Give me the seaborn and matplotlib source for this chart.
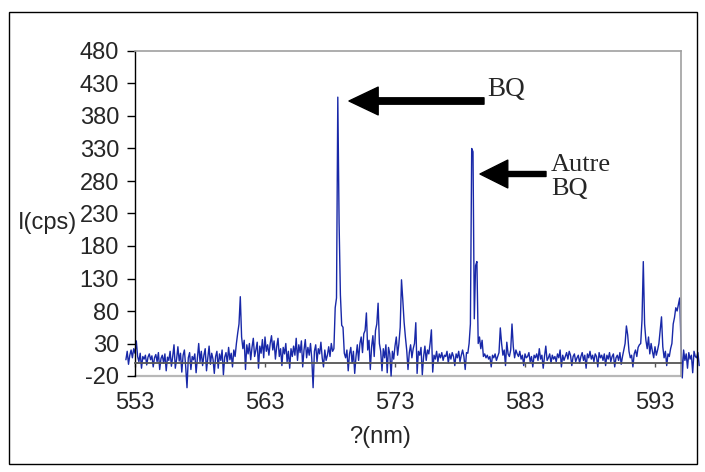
import numpy as np
import matplotlib
matplotlib.use("Agg")
import matplotlib.pyplot as plt
import matplotlib.patches as mpatches
import seaborn as sns

# spectrum, one value every 0.1 nm from 552.3 nm
start_nm = 552.3
step_nm = 0.1
intensity = [
    5, 18, -2, 12, 20, 8, 22, 15, 34, 10,
    2, 15, -8, 10, 6, 12, -3, 9, 14, 5,
    11, -6, 8, 13, 2, 16, -10, 7, 12, 0,
    14, -12, 9, 4, 18, -5, 10, 28, -8, 6,
    25, 3, 15, -14, 12, 20, -6, -38, 8, 16,
    -10, 10, 5, 14, -15, 7, 30, 2, 18, -4,
    12, 22, -12, 8, 26, -2, 15, 6, -16, 10,
    18, -8, 14, 4, 20, -18, 9, 16, 0, 24,
    5, 15, -6, 20, 10, 30, 46, 60, 102, 40,
    22, 35, -10, 28, 14, 30, 5, 24, 38, 10,
    20, 32, -8, 26, 15, 36, 8, 40, 18, 28,
    12, 30, 42, 20, 34, 6, 25, 38, 10, 22,
    -4, 24, 14, 30, 2, 18, -8, 22, 10, 26,
    12, 38, 4, 28, 16, 34, -6, 20, 36, 8,
    24, 12, 30, 6, -38, 18, 28, 2, 22, 14,
    32, 8, -6, 20, 4, 12, 25, 10, 30, 18,
    22, 85, 100, 409, 215, 105, 58, 55, 15, 8,
    20, -12, 14, 24, 0, 18, -16, 10, 28, 4,
    30, 40, 16, 45, 50, 77, 20, 35, -10, 25,
    42, 10, 50, 60, 92, 30, 18, -12, 22, 8,
    28, -15, 24, 14, -20, 18, 6, 26, 40, 12,
    30, 55, 128, 97, 63, 40, 20, -10, 16, 28,
    8, 22, 30, 62, -16, 18, 12, 24, -18, 10,
    26, 4, 20, 14, 30, 51, -14, 12, 6, 18,
    2, 14, 8, 16, 4, 12, 10, 18, 0, 14,
    6, 16, 10, -4, 14, 8, 18, 2, 12, 20,
    10, -10, 16, 15, 30, 60, 330, 325, 68, 150,
    156, 30, 40, 22, 35, 10, 14, 8, 12, 6,
    10, -6, 12, 8, 14, 4, 10, 16, 54, 30,
    12, 20, -4, 32, 14, 10, 20, 60, 25, 8,
    20, 14, 10, 18, 6, 12, -4, 14, 8, 10,
    16, 2, 10, -6, 12, 8, 14, 4, 22, 6,
    12, -8, 10, 26, 4, 8, 14, 0, 12, 6,
    10, 2, 14, 8, 20, -6, 12, 4, 10, 16,
    6, 18, 12, -4, 10, 14, 2, 8, 12, 0,
    10, 16, 4, 12, -8, 14, 8, 18, 6, 12,
    2, 14, 10, -6, 16, 8, 12, 4, 14, -4,
    12, 6, 16, 2, 10, 14, -6, 8, 12, 4,
    16, -2, 10, 20, 30, 57, 43, 18, 8, 12,
    -6, 14, 20, 10, 24, 28, 30, 66, 156, 60,
    35, 22, 40, 14, 30, 18, 8, 25, 12, 20,
    30, 50, 71, 25, 8, 18, -4, 14, 10, 22,
    30, 60, 70, 85, 80, 90, 100, 30, -23, 20,
    4, 14, -8, 16, 6, 12, -15, 18, 10, 8,
    16, -4,
]
wavelength = np.round(start_nm + step_nm * np.arange(len(intensity)), 1)

x_ticks = [553, 563, 573, 583, 593]
y_ticks = [-20, 30, 80, 130, 180, 230, 280, 330, 380, 430, 480]

sns.set_theme(style="white")
plt.rcParams["font.family"] = ["Liberation Sans", "DejaVu Sans"]
plt.rcParams["axes.unicode_minus"] = False

W, H = 705, 472
fig = plt.figure(figsize=(W / 100, H / 100), dpi=100)
ax = fig.add_axes([135 / W, 1 - 376 / H, (681 - 135) / W, (376 - 51) / H])

sns.lineplot(x=wavelength, y=intensity, ax=ax, color="#1828a8",
             linewidth=1.0, estimator=None, clip_on=False)

ax.set_xlim(553, 595)
ax.set_ylim(-20, 480)
ax.set_xticks(x_ticks)
ax.set_yticks(y_ticks)
ax.set_xlabel("")
ax.set_ylabel("")

# excel-like frame: black y axis, x axis crossing at 0, grey plot border
ax.spines["left"].set_color("black")
ax.spines["left"].set_linewidth(1)
ax.spines["bottom"].set_position(("data", 0))
ax.spines["bottom"].set_color("#555555")
ax.spines["bottom"].set_linewidth(1.3)
for s in ["top", "right"]:
    ax.spines[s].set_color("#a0a0a0")
    ax.spines[s].set_linewidth(1.2)
ax.axhline(-20, color="#b8b8b8", linewidth=1.6, clip_on=False, zorder=0)

ax.tick_params(axis="y", direction="out", length=5.5, width=1, color="black",
               pad=6, labelsize=17, left=True)
ax.tick_params(axis="x", direction="out", length=3, width=1, color="#555555",
               pad=18, labelsize=17, bottom=True)

fig.text(77 / W, 1 - 223 / H, "I(cps)", fontsize=17, ha="right", va="center")
fig.text(380 / W, 1 - 437 / H, "?(nm)", fontsize=17, ha="center", va="center")

# arrows and labels
arrow_kw = dict(xycoords="figure pixels", textcoords="figure pixels")
ax.annotate("", xy=(349, H - 101), xytext=(484, H - 101), **arrow_kw,
            arrowprops=dict(arrowstyle="simple,head_length=1.05,head_width=1.0,tail_width=0.23",
                            color="black", shrinkA=0, shrinkB=0, mutation_scale=20))
ax.annotate("", xy=(480, H - 174), xytext=(546, H - 174), **arrow_kw,
            arrowprops=dict(arrowstyle="simple,head_length=1.0,head_width=1.0,tail_width=0.18",
                            color="black", shrinkA=0, shrinkB=0, mutation_scale=20))
serif = ["Liberation Serif", "DejaVu Serif"]
fig.text(487 / W, 1 - 89 / H, "BQ", fontsize=19.5, family=serif, ha="left", va="center")
fig.text(551 / W, 1 - 177 / H, "Autre\nBQ", fontsize=19, family=serif,
         ha="left", va="center", linespacing=1.15)

fig.add_artist(mpatches.Rectangle((9 / W, 1 - 464 / H), 688 / W, 452 / H,
                                  transform=fig.transFigure, fill=False,
                                  edgecolor="black", linewidth=1))

fig.savefig("out.png", dpi=100)
